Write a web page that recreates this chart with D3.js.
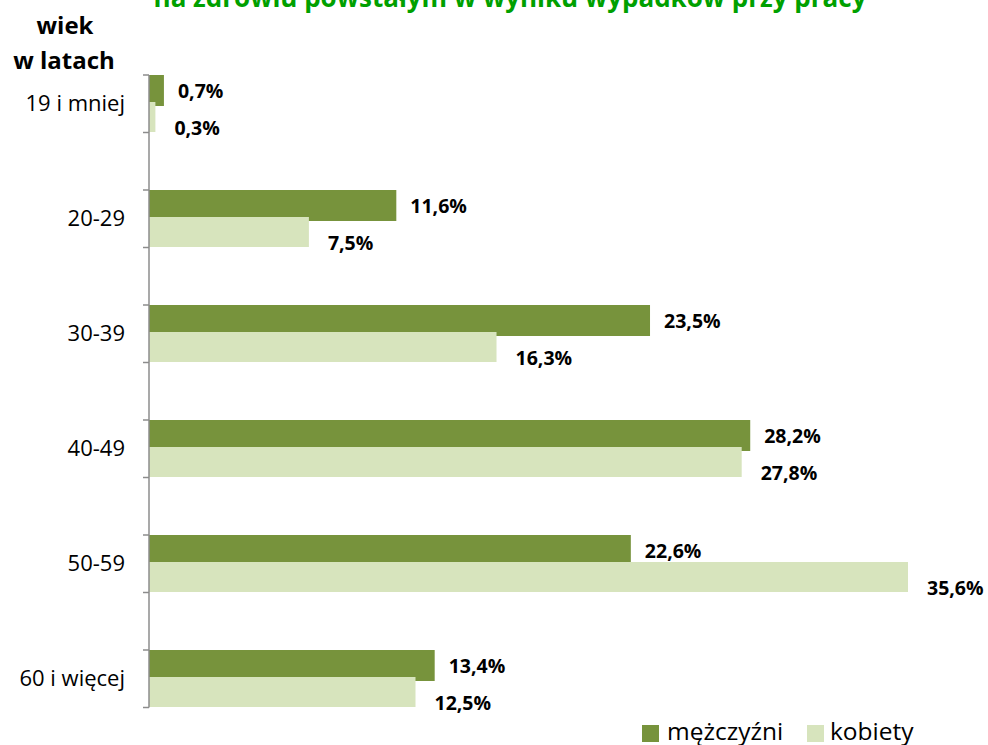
<!DOCTYPE html>
<html>
<head>
<meta charset="utf-8">
<script src="https://cdn.jsdelivr.net/npm/d3@7"></script>
<style>
  body{margin:0;background:#fff;}
  svg{display:block;font-family:"Open Sans",sans-serif;}
</style>
</head>
<body>
<svg id="chart"></svg>
<script>
// data
var categories=["19 i mniej","20-29","30-39","40-49","50-59","60 i więcej"];
var men=[0.7,11.6,23.5,28.2,22.6,13.4];
var women=[0.3,7.5,16.3,27.8,35.6,12.5];
var seriesNames=["mężczyźni","kobiety"];
var colors=["#77933C","#D7E4BD"];

var width=988,height=745;
var svg=d3.select("#chart").attr("width",width).attr("height",height);

var x=d3.scaleLinear().domain([0,36]).range([149,149+36*21.32]);
var y=d3.scaleBand().domain(categories).range([75,765]).paddingInner(0).paddingOuter(0);
var half=y.bandwidth()/2;

// title (clipped at the top like the original)
svg.append("text")
  .attr("x",510).attr("y",7)
  .attr("text-anchor","middle")
  .style("font-size","26px").style("font-weight","bold").style("fill","#00A000")
  .text("na zdrowiu powstałym w wyniku wypadków przy pracy");

svg.append("text").attr("x",65).attr("y",34).attr("text-anchor","middle")
  .style("font-size","24px").style("font-weight","bold").text("wiek");
svg.append("text").attr("x",64).attr("y",69).attr("text-anchor","middle")
  .style("font-size","24px").style("font-weight","bold").text("w latach");

// bars: men first, women drawn over
svg.selectAll(".men").data(categories).enter().append("rect")
  .attr("class","men")
  .attr("x",x(0))
  .attr("y",function(d){return y(d);})
  .attr("width",function(d,i){return x(men[i])-x(0);})
  .attr("height",31)
  .style("fill",colors[0]);

svg.selectAll(".women").data(categories).enter().append("rect")
  .attr("class","women")
  .attr("x",x(0))
  .attr("y",function(d){return y(d)+27;})
  .attr("width",function(d,i){return x(women[i])-x(0);})
  .attr("height",30)
  .style("fill",colors[1]);

// axis
var axisBottom=y(categories[categories.length-1])+half;
svg.append("line").attr("x1",x(0)).attr("x2",x(0)).attr("y1",75).attr("y2",axisBottom)
  .style("stroke","#8c8c8c").style("stroke-width",1.5);
categories.forEach(function(c){
  [y(c),y(c)+half].forEach(function(t){
    svg.append("line").attr("x1",x(0)-6).attr("x2",x(0)).attr("y1",t).attr("y2",t)
      .style("stroke","#8c8c8c").style("stroke-width",1.5);
  });
});

svg.selectAll(".cat").data(categories).enter().append("text")
  .attr("class","cat")
  .attr("x",125)
  .attr("y",function(d){return y(d)+half/2+7;})
  .attr("text-anchor","end")
  .style("font-size","22px").style("fill","#000")
  .text(function(d){return d;});

function fmt(v){return v.toFixed(1).replace(".",",")+"%";}

svg.selectAll(".lm").data(categories).enter().append("text")
  .attr("class","lm")
  .attr("x",function(d,i){return x(men[i])+14;})
  .attr("y",function(d){return y(d)+16;})
  .attr("dy","0.35em")
  .style("font-size","19.5px").style("font-weight","bold")
  .text(function(d,i){return fmt(men[i]);});

svg.selectAll(".lw").data(categories).enter().append("text")
  .attr("class","lw")
  .attr("x",function(d,i){return x(women[i])+19;})
  .attr("y",function(d){return y(d)+53;})
  .attr("dy","0.35em")
  .style("font-size","19.5px").style("font-weight","bold")
  .text(function(d,i){return fmt(women[i]);});

// legend
var leg=[{x:642,tx:667},{x:807,tx:830}];
seriesNames.forEach(function(s,i){
  svg.append("rect").attr("x",leg[i].x).attr("y",725).attr("width",17).attr("height",17)
    .style("fill",colors[i]);
  svg.append("text").attr("x",leg[i].tx).attr("y",740)
    .style("font-size","24.5px").text(s);
});
</script>
</body>
</html>
